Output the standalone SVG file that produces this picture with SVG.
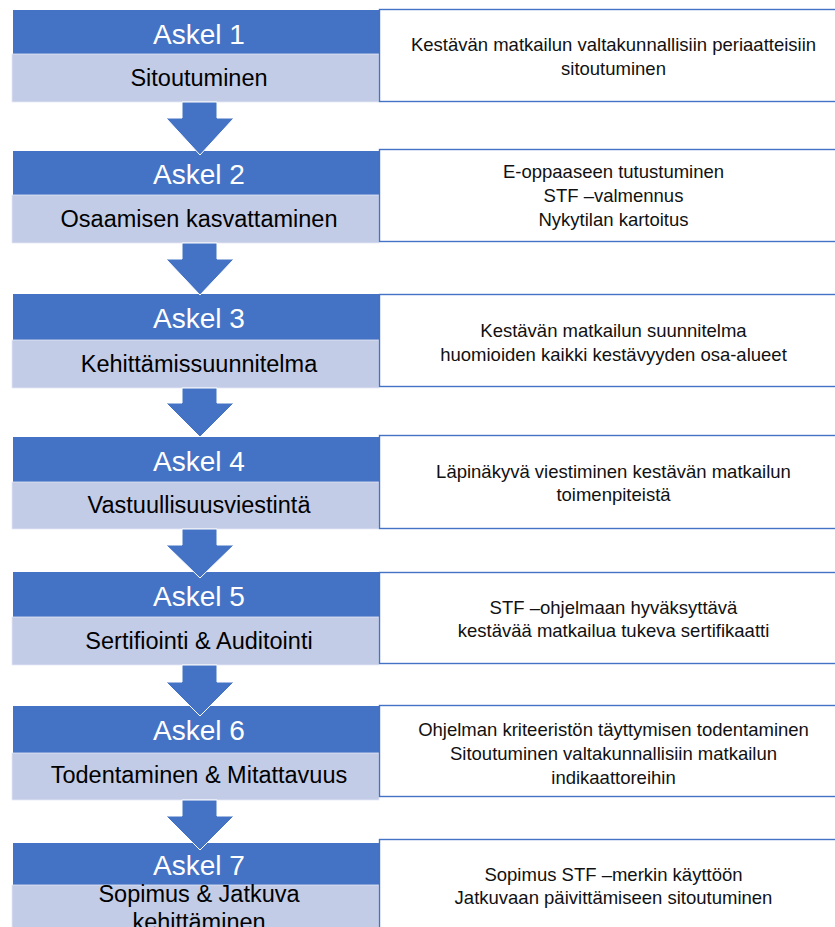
<svg xmlns="http://www.w3.org/2000/svg" width="835" height="927" viewBox="0 0 835 927">
<style>
.dark{fill:#4472C4}
.light{fill:#C3CCE6;stroke:#E4E8F4;stroke-width:0.8}
.box{fill:#FFFFFF;stroke:#4472C4;stroke-width:1.4}
.arrow{fill:#4472C4;stroke:#FFFFFF;stroke-width:1}
.title{font-family:"Liberation Sans",Arial,sans-serif;font-size:28px;fill:#FFFFFF;text-anchor:middle}
.sub{font-family:"Liberation Sans",Arial,sans-serif;font-size:23.5px;fill:#000000;text-anchor:middle}
.desc{font-family:"Liberation Sans",Arial,sans-serif;font-size:18.5px;fill:#111111;text-anchor:middle}
</style>
<rect width="835" height="927" fill="#FFFFFF"/>

<g id="step1">
<rect class="dark" x="13" y="10" width="367" height="44"/>
<rect class="light" x="12" y="54" width="367" height="48"/>
<text class="title" x="199" y="44">Askel 1</text>
<text class="sub" x="199" y="86">Sitoutuminen</text>
</g>
<g id="desc1">
<rect class="box" x="379.5" y="9.5" width="470" height="92"/>
<text class="desc" x="613.5" y="51">Kestävän matkailun valtakunnallisiin periaatteisiin</text>
<text class="desc" x="613.5" y="75">sitoutuminen</text>
</g>

<g id="step2">
<rect class="dark" x="13" y="151" width="367" height="44"/>
<rect class="light" x="12" y="195" width="367" height="48"/>
<text class="title" x="199" y="184">Askel 2</text>
<text class="sub" x="199" y="227">Osaamisen kasvattaminen</text>
</g>
<g id="desc2">
<rect class="box" x="379.5" y="149.5" width="470" height="92"/>
<text class="desc" x="613.5" y="178">E-oppaaseen tutustuminen</text>
<text class="desc" x="613.5" y="202">STF –valmennus</text>
<text class="desc" x="613.5" y="226">Nykytilan kartoitus</text>
</g>

<g id="step3">
<rect class="dark" x="13" y="294" width="367" height="46"/>
<rect class="light" x="12" y="340" width="367" height="48"/>
<text class="title" x="199" y="328">Askel 3</text>
<text class="sub" x="199" y="372">Kehittämissuunnitelma</text>
</g>
<g id="desc3">
<rect class="box" x="379.5" y="294.5" width="470" height="92"/>
<text class="desc" x="613.5" y="336.5">Kestävän matkailun suunnitelma</text>
<text class="desc" x="613.5" y="360.5">huomioiden kaikki kestävyyden osa-alueet</text>
</g>

<g id="step4">
<rect class="dark" x="13" y="437" width="367" height="45"/>
<rect class="light" x="12" y="482" width="367" height="47"/>
<text class="title" x="199" y="471">Askel 4</text>
<text class="sub" x="199" y="513">Vastuullisuusviestintä</text>
</g>
<g id="desc4">
<rect class="box" x="379.5" y="435.5" width="470" height="93"/>
<text class="desc" x="613.5" y="477.5">Läpinäkyvä viestiminen kestävän matkailun</text>
<text class="desc" x="613.5" y="501">toimenpiteistä</text>
</g>

<g id="step5">
<rect class="dark" x="13" y="572" width="367" height="45"/>
<rect class="light" x="12" y="617" width="367" height="48"/>
<text class="title" x="199" y="606">Askel 5</text>
<text class="sub" x="199" y="649">Sertifiointi &amp; Auditointi</text>
</g>
<g id="desc5">
<rect class="box" x="379.5" y="572.5" width="470" height="91"/>
<text class="desc" x="613.5" y="613.5">STF –ohjelmaan hyväksyttävä</text>
<text class="desc" x="613.5" y="637">kestävää matkailua tukeva sertifikaatti</text>
</g>

<g id="step6">
<rect class="dark" x="13" y="706" width="367" height="47"/>
<rect class="light" x="12" y="753" width="367" height="47"/>
<text class="title" x="199" y="740">Askel 6</text>
<text class="sub" x="199" y="783">Todentaminen &amp; Mitattavuus</text>
</g>
<g id="desc6">
<rect class="box" x="379.5" y="705.5" width="470" height="91"/>
<text class="desc" x="613.5" y="735.5">Ohjelman kriteeristön täyttymisen todentaminen</text>
<text class="desc" x="613.5" y="759.5">Sitoutuminen valtakunnallisiin matkailun</text>
<text class="desc" x="613.5" y="783.5">indikaattoreihin</text>
</g>

<g id="step7">
<rect class="dark" x="13" y="843" width="367" height="42"/>
<rect class="light" x="12" y="885" width="367" height="50"/>
<text class="title" x="199" y="875">Askel 7</text>
<text class="sub" x="199" y="902">Sopimus &amp; Jatkuva</text>
<text class="sub" x="199" y="930">kehittäminen</text>
</g>
<g id="desc7">
<rect class="box" x="379.5" y="839.5" width="470" height="92"/>
<text class="desc" x="613.5" y="880.5">Sopimus STF –merkin käyttöön</text>
<text class="desc" x="613.5" y="904">Jatkuvaan päivittämiseen sitoutuminen</text>
</g>

<g id="connectors">
<polygon class="arrow" points="182,102 217,102 217,118 234,118 200,155 166,118 182,118"/>
<polygon class="arrow" points="182,243 217,243 217,259 234,259 200,295 166,259 182,259"/>
<polygon class="arrow" points="182,388 217,388 217,403 234,403 200,437 166,403 182,403"/>
<polygon class="arrow" points="182,529 217,529 217,545 234,545 200,578 166,545 182,545"/>
<polygon class="arrow" points="182,665 217,665 217,682 234,682 200,716 166,682 182,682"/>
<polygon class="arrow" points="182,800 217,800 217,816 234,816 200,850 166,816 182,816"/>
</g>
</svg>
